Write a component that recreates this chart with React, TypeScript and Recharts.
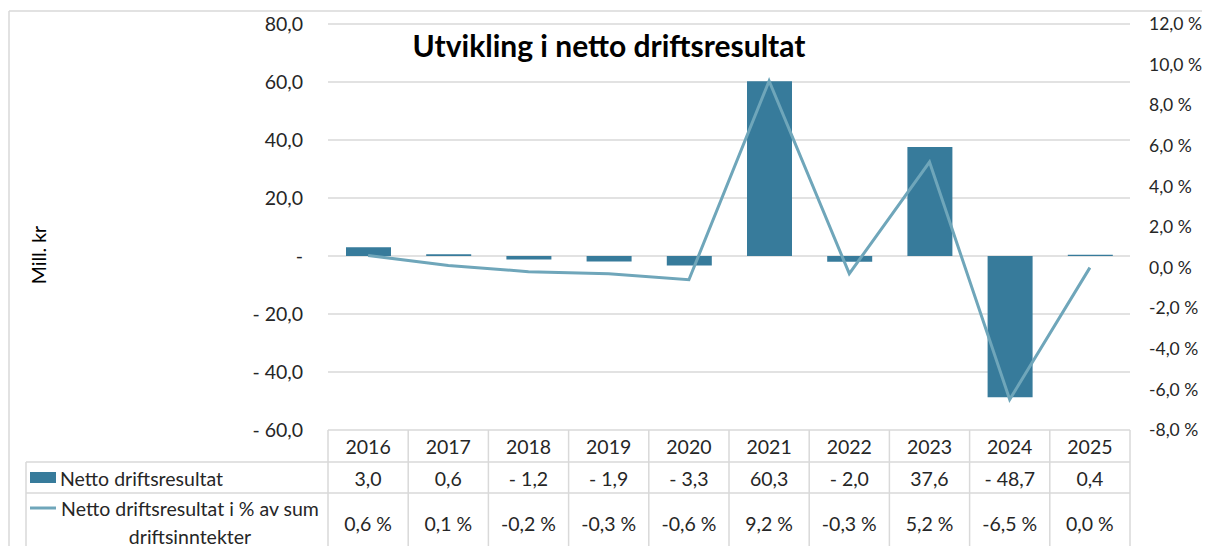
import React from 'react';
import { ComposedChart, Bar, Line, XAxis, YAxis, CartesianGrid } from 'recharts';

const years = ['2016', '2017', '2018', '2019', '2020', '2021', '2022', '2023', '2024', '2025'];
const nettoDriftsresultat = [3.0, 0.6, -1.2, -1.9, -3.3, 60.3, -2.0, 37.6, -48.7, 0.4];
const nettoProsent = [0.6, 0.1, -0.2, -0.3, -0.6, 9.2, -0.3, 5.2, -6.5, 0.0];
const leftTicks = [-60, -40, -20, 0, 20, 40, 60, 80];
const rightTicks = [-8, -6, -4, -2, 0, 2, 4, 6, 8, 10, 12];

const seriesBarName = 'Netto driftsresultat';
const seriesLineName1 = 'Netto driftsresultat i % av sum';
const seriesLineName2 = 'driftsinntekter';
const titleText = 'Utvikling i netto driftsresultat';
const yLabel = 'Mill. kr';

const data = years.map((y, i) => ({ year: y, drift: nettoDriftsresultat[i], pct: nettoProsent[i] }));

const FONT = 'Lato, "Noto Sans", sans-serif';
const FS = 19.5;
const TEXT = '#262626';
const GRID = '#d9d9d9';
const BAR = '#377B9B';
const LINE = '#6FA6BA';

const CHART_W = 1202;
const CHART_H = 538;
const LEFT_W = 320;
const RIGHT_W = 80;
const XAXIS_H = 116;
const PLOT_W = CHART_W - LEFT_W - RIGHT_W;
const COL_W = PLOT_W / years.length;

const fmtMill = (v: number) =>
  v === 0 ? '-' : (v < 0 ? '- ' : '') + Math.abs(v).toFixed(1).replace('.', ',');
const fmtPct = (v: number) => v.toFixed(1).replace('.', ',') + ' %';

const TableTick = (props: any) => {
  const { x, y, payload } = props;
  const i = payload.index;
  const half = COL_W / 2;
  const last = i === years.length - 1;
  const ts = { fontFamily: FONT, fontSize: FS, fill: TEXT } as React.CSSProperties;
  return (
    <g>
      <line x1={x - half} x2={x - half} y1={y} y2={y + 140} stroke={GRID} strokeWidth={1.5} />
      {last && <line x1={x + half} x2={x + half} y1={y} y2={y + 140} stroke={GRID} strokeWidth={1.5} />}
      <line x1={x - half} x2={x + half} y1={y + 32} y2={y + 32} stroke={GRID} strokeWidth={1.5} />
      <line x1={x - half} x2={x + half} y1={y + 63} y2={y + 63} stroke={GRID} strokeWidth={1.5} />
      <text x={x} y={y + 16} textAnchor="middle" dominantBaseline="central" style={ts}>{years[i]}</text>
      <text x={x} y={y + 48} textAnchor="middle" dominantBaseline="central" style={ts}>{fmtMill(nettoDriftsresultat[i])}</text>
      <text x={x} y={y + 93} textAnchor="middle" dominantBaseline="central" style={ts}>{fmtPct(nettoProsent[i])}</text>
    </g>
  );
};

export default function App() {
  const ts = { fontFamily: FONT, fontSize: FS, fill: TEXT };
  return (
    <div style={{ position: 'relative', width: CHART_W, height: CHART_H, overflow: 'hidden' }}>
      <ComposedChart width={CHART_W} height={CHART_H} data={data} margin={{ top: 16, right: 0, bottom: 0, left: 0 }}>
        <CartesianGrid yAxisId="left" vertical={false} stroke={GRID} strokeWidth={1.5} />
        <XAxis
          dataKey="year"
          height={XAXIS_H}
          interval={0}
          tickLine={false}
          axisLine={false}
          tickSize={0}
          tickMargin={0}
          tick={<TableTick />}
        />
        <YAxis
          yAxisId="left"
          width={LEFT_W}
          domain={[-60, 80]}
          ticks={leftTicks}
          tickFormatter={fmtMill}
          tickLine={false}
          axisLine={false}
          tickSize={0}
          tickMargin={25}
          tick={ts}
          interval={0}
        />
        <YAxis
          yAxisId="right"
          orientation="right"
          width={RIGHT_W}
          domain={[-8, 12]}
          ticks={rightTicks}
          tickFormatter={fmtPct}
          tickLine={false}
          axisLine={false}
          tickSize={0}
          tickMargin={19}
          tick={{ ...ts, fontSize: 17.5, textAnchor: 'start' }}
          interval={0}
        />
        <Bar yAxisId="left" dataKey="drift" fill={BAR} barSize={45} isAnimationActive={false} />
        <Line yAxisId="right" dataKey="pct" stroke={LINE} strokeWidth={3} dot={false} isAnimationActive={false} />
      </ComposedChart>
      <svg width={CHART_W} height={CHART_H} style={{ position: 'absolute', left: 0, top: 0, pointerEvents: 'none' }}>
        <line x1={1} x2={1} y1={3} y2={CHART_H} stroke={GRID} strokeWidth={1.5} />
        <line x1={1} x2={CHART_W} y1={3} y2={3} stroke={GRID} strokeWidth={1.5} />
        <text x={601} y={37} textAnchor="middle" dominantBaseline="central"
          style={{ fontFamily: FONT, fontSize: 30, fontWeight: 700, fill: '#000' }}>{titleText}</text>
        <text x={30} y={247} textAnchor="middle" dominantBaseline="central" transform="rotate(-90 30 247)"
          style={{ fontFamily: FONT, fontSize: FS, fill: '#000' }}>{yLabel}</text>
        <line x1={18} x2={18} y1={454} y2={CHART_H} stroke={GRID} strokeWidth={1.5} />
        <line x1={18} x2={LEFT_W} y1={454} y2={454} stroke={GRID} strokeWidth={1.5} />
        <line x1={18} x2={LEFT_W} y1={485} y2={485} stroke={GRID} strokeWidth={1.5} />
        <rect x={22} y={464} width={26} height={11} fill={BAR} />
        <text x={52} y={470} dominantBaseline="central" style={{ fontFamily: FONT, fontSize: FS, fill: TEXT }}>{seriesBarName}</text>
        <line x1={22} x2={48} y1={500} y2={500} stroke={LINE} strokeWidth={3} />
        <text x={182} y={500} textAnchor="middle" dominantBaseline="central" style={{ fontFamily: FONT, fontSize: FS, fill: TEXT }}>{seriesLineName1}</text>
        <text x={182} y={528} textAnchor="middle" dominantBaseline="central" style={{ fontFamily: FONT, fontSize: FS, fill: TEXT }}>{seriesLineName2}</text>
      </svg>
    </div>
  );
}
